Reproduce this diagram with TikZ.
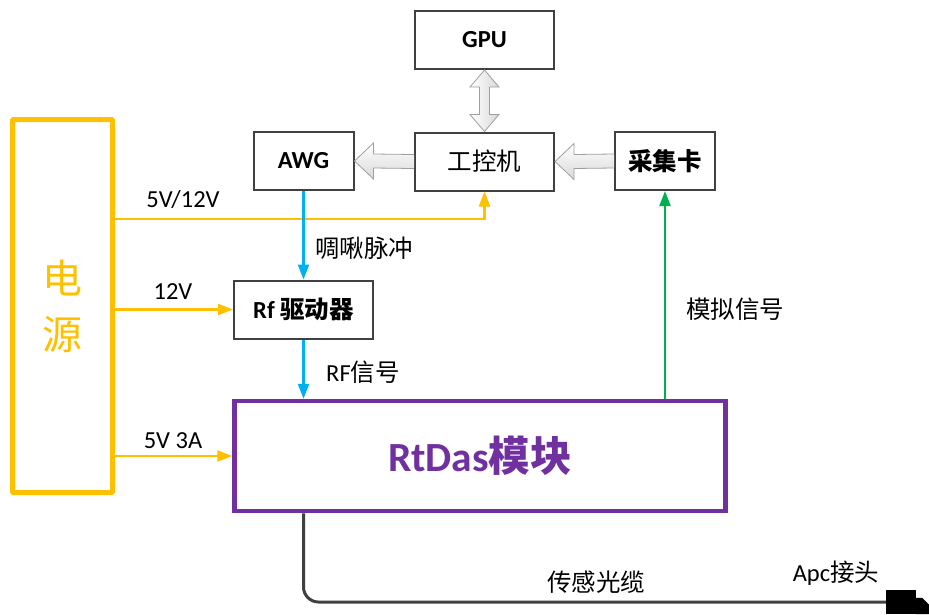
\documentclass[tikz,border=0pt]{standalone}
\usepackage{fontspec}
\setmainfont{Carlito}
\newfontfamily\cjk{Noto Sans CJK SC}
\usetikzlibrary{calc,arrows.meta}

\definecolor{boxgray}{HTML}{404040}
\definecolor{pwr}{HTML}{FFC000}
\definecolor{sig}{HTML}{00B0F0}
\definecolor{ana}{HTML}{00B050}
\definecolor{mod}{HTML}{7030A0}

\begin{document}
\begin{tikzpicture}[x=1pt,y=-1pt,
  box/.style={draw=boxgray,line width=2pt,fill=white,inner sep=0pt,
    minimum width=139pt,minimum height=58pt,
    font=\fontsize{24.5}{28}\selectfont\bfseries},
  lbl/.style={inner sep=0pt,font=\fontsize{24.5}{28}\selectfont},
  tip/.style={-{Triangle[length=15pt,width=11pt]},line width=2.2pt},
  hollow/.style={draw=gray!75,line width=0.8pt,top color=white,bottom color=gray!30},
  hollowv/.style={draw=gray!75,line width=0.8pt,left color=white,right color=gray!30},
  cable/.style={draw=boxgray,line width=3pt}]
  \useasboundingbox (0,0) rectangle (929,614);

  % boxes
  \node[box] (gpu) at (484.5,40) {GPU};
  \node[box,font=\fontsize{24.5}{28}\selectfont] (ipc) at (484.5,161.5) {\cjk 工控机};
  \node[box,minimum width=100pt] (awg) at (303.5,161) {AWG};
  \node[box,minimum width=100pt] (daq) at (665,161) {\cjk 采集卡};
  \node[box] (rf) at (303.5,309.5) {Rf {\cjk 驱动器}};
  \node[draw=pwr,line width=5pt,rounded corners=1pt,inner sep=0pt,
    minimum width=100pt,minimum height=373pt,text=pwr,align=center,
    font=\cjk\fontsize{40}{56}\selectfont] (ps) at (62.5,306) {电\\源};
  \node[draw=mod,line width=4.5pt,inner sep=0pt,minimum width=491pt,
    minimum height=110pt,text=mod,
    font=\fontsize{41.5}{48}\selectfont\bfseries] (rtdas) at (480,456) {RtDas{\cjk 模块}};
  \node[fill=black,inner sep=0pt,minimum width=30pt,minimum height=24pt] (apc) at (901,602) {};

  % hollow arrows
  \draw[hollow] ($(ipc.west)+(0,-7)$) -- ($(awg.east)+(19,-7)$) -- ($(awg.east)+(19,-18)$)
    -- (awg.east) -- ($(awg.east)+(19,18)$) -- ($(awg.east)+(19,7)$) -- ($(ipc.west)+(0,7)$);
  \draw[hollow] ($(daq.west)+(0,-7)$) -- ($(ipc.east)+(19,-7)$) -- ($(ipc.east)+(19,-18)$)
    -- (ipc.east) -- ($(ipc.east)+(19,18)$) -- ($(ipc.east)+(19,7)$) -- ($(daq.west)+(0,7)$);
  \draw[hollowv] (gpu.south) -- ++(14.5,17) -- ++(-9.5,0) -- ($(ipc.north)+(5,-17)$)
    -- ++(9.5,0) -- (ipc.north) -- ++(-14.5,-17) -- ++(9.5,0)
    -- ($(gpu.south)+(-5,17)$) -- ++(-9.5,0) -- cycle;

  % power lines
  \coordinate (s1) at (112.5,219);
  \draw[tip,pwr] (s1) -| (ipc.south);
  \draw[tip,pwr] (ps.east |- rf.west) -- (rf.west);
  \draw[tip,pwr] (ps.east |- rtdas.west) -- (rtdas.west);

  % signals
  \draw[tip,sig] (awg.south) -- (rf.north);
  \draw[tip,sig] (rf.south) -- (rf.south |- rtdas.north);
  \draw[tip,ana] (rtdas.north -| daq.south) -- (daq.south);

  % fibre
  \draw[cable,rounded corners=15pt] (rtdas.south -| rf.south) |- (apc.west);
  \fill (apc.north east) ++(0,8) -- ++(6,0) -- ++(7,7) -- (929,614) -- (apc.south east) -- cycle;

  % labels
  \node[lbl] (l1) at (183,200) {5V/12V};
  \node[lbl] (l2) at (173,292) {12V};
  \node[lbl] (l3) at (173,441) {5V 3A};
  \node[lbl] (l4) at (364,248) {\cjk 啁啾脉冲};
  \node[lbl] (l5) at (363,372) {RF{\cjk 信号}};
  \node[lbl] (l6) at (735,309) {\cjk 模拟信号};
  \node[lbl] (l7) at (596,582) {\cjk 传感光缆};
  \node[lbl] (l8) at (836,573) {Apc{\cjk 接头}};
\end{tikzpicture}
\end{document}
